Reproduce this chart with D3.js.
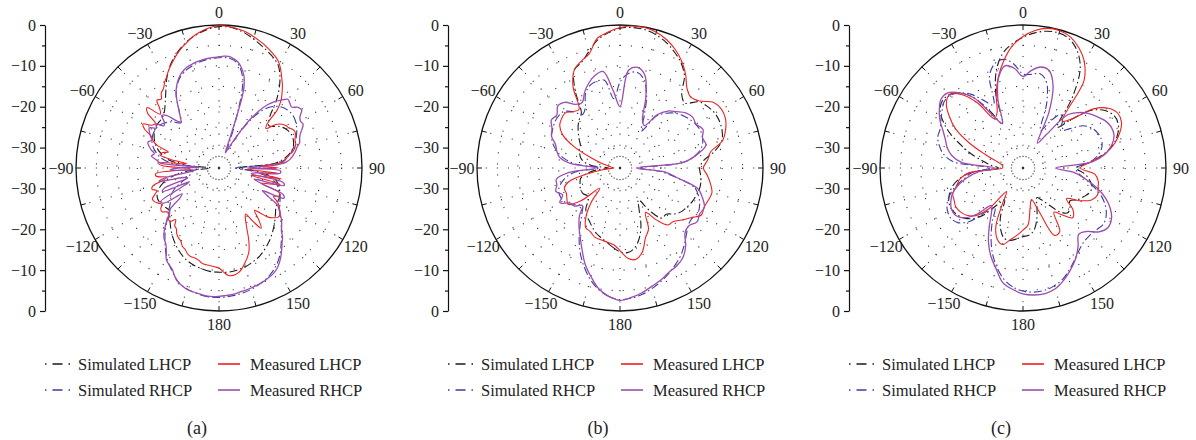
<!DOCTYPE html>
<html><head><meta charset="utf-8">
<script src="https://cdn.jsdelivr.net/npm/d3@7"></script>
<style>
body{margin:0;background:#fff;}
text{font-family:"Liberation Serif","Times New Roman",serif;fill:#222;}
</style></head>
<body><svg id="c" width="1196" height="440"></svg>
<script>
// Each series lists values clockwise from -180 deg (top = 0 deg), evenly spaced over 360 deg
// (72 values = 5 deg step, 144 values = 2.5 deg step).
const angleTicks = [0, 30, 60, 90, 120, 150, 180, -150, -120, -90, -60, -30];
const radialTicksMajor = [0, -10, -20, -30];
const radialTicksMinor = [-5, -15, -25, -35];
const gridLevels = [-30, -25, -20, -15, -10, -5];
const panelLabels = ["(a)", "(b)", "(c)"];
const seriesNames = ["Simulated LHCP", "Simulated RHCP", "Measured LHCP", "Measured RHCP"];

// ---- panel (a) ----
const aSimL = [-9.5,-9.6,-10,-10.5,-11.2,-12.3,-13.6,-15,-16.5,-18,-19,-18.6,
 -18.2,-18.3,-19.2,-20.8,-23.5,-28,-33,-26.5,-22,-20,-18.5,-17.5,
 -16.8,-16.5,-16.5,-16,-14.5,-12.3,-9.5,-7,-5,-3.3,-2,-1,
 -0.4,-0.5,-1.2,-2.3,-3.5,-4.6,-6,-9,-13,-17.5,-19,-17.2,
 -16,-15.5,-15.6,-16.3,-18,-21,-30,-26,-21.5,-20,-19.2,-18.6,
 -18.4,-18,-17,-15.8,-14.6,-13.4,-12.3,-11.3,-10.6,-10,-9.6,-9.4];
const aSimR = [-3.3,-3.4,-3.8,-4.4,-5.5,-7.5,-9.5,-12,-14.5,-17,-19,-20.5,
 -21.5,-23,-25.5,-27.5,-28,-29,-31,-24,-20.5,-18.8,-17.6,-17,
 -16.8,-17,-17.8,-19,-20.5,-18,-14,-11.5,-10,-9.2,-8.6,-8.2,
 -8,-8,-9,-12.5,-24,-30,-25,-19,-15.5,-13.8,-13,-12.8,
 -13.2,-14,-15,-16.2,-17.6,-20,-31,-27,-23,-20.5,-19.5,-18.5,
 -17.8,-16.8,-15.3,-13.3,-11.3,-9,-7.2,-5.9,-5,-4.3,-3.8,-3.5];
const aMeasL = [
 -10.5,-10.8,-11,-11.1,-11.3,-11.9,-12.2,-12.2,-12.6,-13.4,-13.8,-14.8,
 -15.2,-15.8,-16.8,-17.2,-18.5,-17.2,-17.5,-18.6,-18.3,-17.4,-17.6,-18.4,
 -17.8,-17.2,-17,-18,-18.8,-17.8,-18.3,-21,-22,-19.5,-19.5,-28,
 -27,-21,-20,-27,-23,-20.2,-20.5,-22,-19,-17.5,-16.8,-14.5,
 -13.5,-15.5,-16,-13,-12,-15.5,-14.5,-12.5,-13,-11.8,-11.3,-10.2,
 -9.3,-8.2,-7.2,-6.2,-5.2,-4.3,-3.5,-2.6,-1.9,-1.3,-0.8,-0.4,
 -0.2,-0.2,-0.4,-0.6,-0.9,-1.3,-1.8,-2.3,-2.8,-3.4,-4,-4.6,
 -5.5,-6.8,-8.2,-9.5,-11,-12.5,-14.8,-19,-20,-17.5,-16.3,-15.6,
 -15.3,-14.6,-14.4,-14.8,-15.2,-15.3,-15.8,-16.5,-17.8,-18.5,-19.5,-25,
 -20.5,-28,-20.5,-25,-19.5,-27,-19.5,-22,-24,-19,-18.8,-20,
 -18.5,-17.5,-17,-16.2,-16.2,-17,-18,-20,-21.5,-19,-17,-19.5,
 -22,-21,-19,-16,-13.5,-12,-10.8,-9.6,-8.8,-8.5,-8.6,-9.5];
const aMeasR = [
 -3.6,-3.5,-3.5,-3.7,-3.9,-4.1,-4.3,-4.8,-5.4,-6.5,-7.8,-8.4,
 -9.2,-11,-12.3,-13,-14,-15.5,-17,-18.5,-19.5,-23,-24,-19,
 -18.5,-24,-27,-20,-21,-27,-26,-20,-22,-28,-29,-23,
 -25,-30,-20.5,-19.5,-18.2,-18.8,-17.8,-17,-16.5,-17.2,-16.5,-15.8,
 -15.3,-16.8,-16.2,-18,-17.5,-16,-16.8,-19,-20.5,-19.5,-18,-16,
 -14,-12.5,-11.3,-10.3,-9.6,-9.1,-8.8,-8.5,-8.3,-8.1,-8,-7.9,
 -7.8,-7.6,-7.6,-8,-8.6,-9.8,-11.5,-15,-27,-31,-30,-28,
 -25,-21,-18,-15.5,-13.8,-12.5,-11.2,-11.5,-11.8,-10.6,-10.3,-11.5,
 -12,-11.8,-12.6,-13.5,-14,-14.3,-15.2,-15.8,-16.5,-17.3,-18.5,-22,
 -28,-20,-20,-26,-27,-19,-18.5,-26,-24,-18,-17.5,-23,
 -21,-18,-17,-16,-15,-14.2,-13.4,-12,-11,-9.8,-8.6,-7.5,
 -6.6,-6,-5.6,-5.3,-5,-4.8,-4.6,-4.4,-4.3,-4,-3.8,-3.7];

// ---- panel (b) ----
const bSimL = [-14.5,-15.5,-16.5,-17.3,-18,-19,-20,-20.8,-22,-24,-24.5,-24,
 -24,-24.2,-24.6,-25,-26.5,-29,-32,-28,-26,-25,-24.5,-24,
 -23.8,-22.8,-21.7,-20.5,-19.5,-18.5,-13,-8.5,-7.5,-5.5,-3.2,-1.8,
 -0.8,-0.5,-0.6,-1.2,-2.2,-3.6,-5.2,-7.5,-11.5,-12.5,-9.8,-8.8,
 -8.2,-8.1,-8.4,-9.2,-11.5,-14.5,-15.5,-15.2,-14.9,-14.9,-15.2,-15.5,
 -16,-16.5,-17.5,-19,-19,-22,-26,-24,-20,-17,-15,-14.2];
const bSimR = [-2.8,-3.4,-4.8,-6.8,-9.3,-12,-15,-18,-20.5,-22,-21,-19.5,
 -19,-18.8,-19,-20,-21.5,-24,-30,-24,-21,-19,-17.5,-16.5,
 -16,-15.5,-15.3,-15.5,-17,-19,-18,-15,-13.5,-13,-13.2,-18,
 -14,-11.8,-11.2,-12.5,-16,-21,-24.5,-19.5,-17.5,-16,-15,-14.2,
 -13.6,-13.3,-13.5,-14.2,-16,-19.5,-30,-25,-20.5,-16,-14.5,-13.5,
 -13,-13.5,-13.2,-12,-10.5,-9,-7.8,-6.6,-5.5,-4.5,-3.6,-3];
const bMeasL = [-14.8,-16.2,-16.6,-16.8,-17,-17.8,-18.2,-20.5,-24,-28,-22.5,-19.5,
 -20,-20.5,-20.5,-22,-27,-31,-33.5,-33,-32,-30,-27,-22.5,
 -18.8,-17,-16.3,-16,-17,-17.5,-12,-8.5,-7.2,-6,-2.8,-1.6,
 -0.6,-0.1,-0.1,-0.6,-1.6,-3,-4.8,-7,-9.5,-10.5,-9.5,-7,
 -6.3,-6.5,-7.5,-9,-12.5,-13.5,-14.6,-13.5,-12.5,-11.7,-12,-12.3,
 -12,-13.8,-15.2,-16.5,-16.8,-19.5,-22.5,-18.5,-16.8,-13.8,-12.3,-12.8];
const bMeasR = [-2.6,-3.5,-5,-7.5,-10,-13,-15.5,-17.5,-19.5,-22,-20.5,-20,
 -18,-19.5,-18.3,-19,-19.2,-22.5,-29,-23,-20,-19,-18.2,-16.5,
 -15.8,-14.5,-14.8,-13.5,-14,-16,-16.5,-14.5,-12.8,-11.5,-11,-16,
 -20,-11,-10,-11.5,-16.5,-22,-23,-19,-16.8,-15.5,-14,-13.3,
 -13.5,-12.6,-13.5,-13.2,-15.8,-19.5,-31,-24,-20.5,-15.2,-13.5,-12.2,
 -12.5,-12,-13,-12.5,-10,-8.2,-7.3,-6.8,-5.8,-5,-4,-3.2];

// ---- panel (c) ----
const cSimL = [-18.2,-17.6,-17,-17.2,-19,-22,-26,-24,-20,-17.5,-16,-15.2,
 -14.8,-15,-15.8,-17,-19,-22,-29,-27,-25,-22,-19,-15.5,
 -12.5,-10.2,-9.3,-9.6,-11,-14,-19,-23,-15.5,-10,-6.5,-4.5,
 -3,-1.8,-1,-0.8,-1.5,-3.5,-7,-14,-22,-18,-13,-10.5,
 -9.3,-9.3,-10.3,-12,-14.8,-18.5,-22,-20,-18.5,-17.5,-17.6,-18.5,
 -19.5,-21,-20,-19.5,-21,-24,-26,-27,-25,-22,-19.5,-18.5];
const cSimR = [-4.9,-5.8,-7.5,-10,-13,-16.5,-20,-23,-21,-16.5,-14.2,-13.5,
 -13.7,-14.5,-16,-18,-20.5,-22.5,-27,-18,-15.2,-13.8,-12.8,-12.6,
 -11.8,-10.8,-9.8,-9.8,-11,-13,-16,-18,-11,-8.5,-8,-9.5,
 -12,-12,-11.5,-13,-18,-25,-22,-19,-20,-22,-20,-17,
 -15.5,-14.8,-14.6,-15,-16.3,-18.5,-22,-21.5,-19.5,-17,-14.5,-12.7,
 -11.5,-11,-11.5,-11.8,-11.6,-10.8,-9.4,-7.8,-6.2,-5.2,-4.6,-4.5];
const cMeasL = [-19.8,-18.5,-17.2,-15.6,-16.5,-19.3,-25,-28,-22,-18.5,-17,-16.3,
 -16,-16.4,-16.7,-18.2,-19.3,-22,-30,-30,-29.5,-28,-25,-20.5,
 -16,-13,-10.5,-9.6,-11.5,-15.5,-21,-20,-15.8,-11.8,-8.2,-5,
 -2.8,-1.2,-0.3,-0.2,-0.9,-2.6,-5,-9,-20,-18,-12.5,-9.5,
 -8.2,-8.4,-9.8,-11.8,-14.5,-18.5,-21,-17.3,-16.3,-16,-15.6,-16.5,
 -19,-22,-19,-17.8,-20,-21.8,-17,-16.8,-24,-27,-25,-21];
const cMeasR = [-4.2,-5.2,-6.5,-9.5,-12,-15,-18.5,-21.5,-23,-19,-16,-14.8,
 -14.8,-15.5,-16.6,-18.5,-21,-24,-28,-20,-17.3,-15.8,-14.8,-13.4,
 -11.5,-10,-8.8,-9,-11,-14,-20,-23,-17,-12,-9.6,-10.5,
 -12.6,-11,-9.9,-10.3,-13.5,-20,-28,-25,-18,-15.8,-14.2,-13,
 -11.8,-11.2,-11.3,-12.4,-14.4,-18,-27,-22.5,-19.5,-16.3,-13.5,-11.4,
 -10,-9.6,-10.7,-13,-13.8,-11.5,-9.3,-7.5,-5.8,-4.4,-3.8,-3.8];

const panelData = [
  [aSimL, aSimR, aMeasL, aMeasR],
  [bSimL, bSimR, bMeasL, bMeasR],
  [cSimL, cSimR, cMeasL, cMeasR]
];

// ---- layout / style ----
const layout = [{axisX:45, cx:219}, {axisX:448, cx:620}, {axisX:849, cx:1023}];
const cy = 168, R = 143;
const styles = [
  {color:"#1a1a1a", dash:"8,3,1.5,3", w:1.1},
  {color:"#3b3ba3", dash:"8,3,1.5,3", w:1.1},
  {color:"#ee2020", dash:null, w:1.1},
  {color:"#9b4db0", dash:null, w:1.3}
];
const fmt = v => (v < 0 ? "\u2212" + Math.abs(v) : String(v));

const svg = d3.select("#c");
const rScale = d3.scaleLinear().domain([-35, 0]).range([0, R]).clamp(true);

layout.forEach((L, pi) => {
  const g = svg.append("g");
  const pg = g.append("g").attr("transform", `translate(${L.cx},${cy})`);

  pg.selectAll("circle.grid").data(gridLevels).join("circle")
    .attr("r", d => rScale(d)).attr("fill", "none")
    .attr("stroke", "#333").attr("stroke-width", 1.1)
    .attr("stroke-dasharray", "1.1,10");
  const spokes = d3.range(0, 360, 15);
  pg.selectAll("line.spoke").data(spokes).join("line")
    .attr("x1", 0).attr("y1", 0)
    .attr("x2", d => R * Math.sin(d * Math.PI / 180))
    .attr("y2", d => -R * Math.cos(d * Math.PI / 180))
    .attr("stroke", "#333").attr("stroke-width", 1.1)
    .attr("stroke-dasharray", "1.1,10");

  pg.append("circle").attr("r", R).attr("fill", "none")
    .attr("stroke", "#111").attr("stroke-width", 1.3);
  pg.selectAll("line.tk").data(spokes).join("line")
    .attr("x1", d => R * Math.sin(d * Math.PI / 180))
    .attr("y1", d => -R * Math.cos(d * Math.PI / 180))
    .attr("x2", d => (R - 5) * Math.sin(d * Math.PI / 180))
    .attr("y2", d => -(R - 5) * Math.cos(d * Math.PI / 180))
    .attr("stroke", "#111").attr("stroke-width", 1);

  pg.selectAll("text.al").data(angleTicks).join("text")
    .attr("x", d => 158 * Math.sin(d * Math.PI / 180))
    .attr("y", d => -156 * Math.cos(d * Math.PI / 180))
    .attr("dy", "0.35em").attr("text-anchor", "middle")
    .attr("font-size", 16).text(d => fmt(d));

  const line = d3.lineRadial()
    .angle(d => d[0] * Math.PI / 180)
    .radius(d => rScale(d[1]))
    .curve(d3.curveCatmullRomClosed.alpha(0.5));
  panelData[pi].forEach((vals, si) => {
    const step = 360 / vals.length;
    const pts = vals.map((v, i) => [-180 + i * step, v]);
    const s = styles[si];
    pg.append("path").attr("d", line(pts)).attr("fill", "none")
      .attr("stroke", s.color).attr("stroke-width", s.w)
      .attr("stroke-dasharray", s.dash).attr("stroke-linejoin", "round");
  });

  const yTop = d3.scaleLinear().domain([0, -35]).range([cy - R, cy]);
  const yBot = d3.scaleLinear().domain([-35, 0]).range([cy, cy + R]);
  [yTop, yBot].forEach(ys => {
    const ax = g.append("g").attr("transform", `translate(${L.axisX},0)`);
    ax.call(d3.axisLeft(ys).tickValues(radialTicksMajor).tickSize(5).tickSizeOuter(0).tickPadding(4).tickFormat(fmt));
    const ax2 = g.append("g").attr("transform", `translate(${L.axisX},0)`);
    ax2.call(d3.axisLeft(ys).tickValues(radialTicksMinor).tickSize(3).tickSizeOuter(0).tickFormat(""));
    ax2.select(".domain").remove();
    [ax, ax2].forEach(a => {
      a.selectAll("path,line").attr("stroke", "#111").attr("stroke-width", 1.2);
      a.selectAll("text").attr("font-size", 16).attr("font-family", "Liberation Serif, serif").attr("fill", "#222");
    });
  });

  const lg = g.append("g");
  const rows = [364, 390];
  const entries = [
    {si:0, x:L.axisX, row:0}, {si:2, x:L.axisX + 173, row:0},
    {si:1, x:L.axisX, row:1}, {si:3, x:L.axisX + 173, row:1}
  ];
  entries.forEach(e => {
    const s = styles[e.si];
    const y = rows[e.row];
    const len = e.si < 2 ? 25 : 22;
    lg.append("line").attr("x1", e.x).attr("x2", e.x + len).attr("y1", y).attr("y2", y)
      .attr("stroke", s.color).attr("stroke-width", e.si < 2 ? 1.3 : 1.6)
      .attr("stroke-dasharray", e.si < 2 ? "1.5,6,10,6,1.5" : null);
    lg.append("text").attr("x", e.x + (e.si < 2 ? 33 : 32)).attr("y", y).attr("dy", "0.35em")
      .attr("font-size", 16.5).text(seriesNames[e.si]);
  });
  g.append("text").attr("x", L.cx - 22).attr("y", 428).attr("dy", "0.35em")
    .attr("text-anchor", "middle").attr("font-size", 18).text(panelLabels[pi]);
});
</script></body></html>
